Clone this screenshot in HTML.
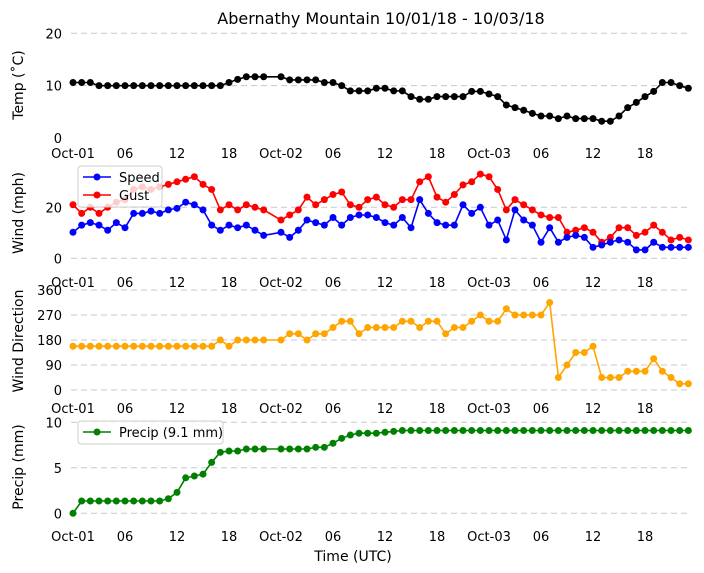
<!DOCTYPE html>
<html><head><meta charset="utf-8">
<style>
body{margin:0;background:#fff;}
svg{display:block;font-family:"DejaVu Sans","Liberation Sans",sans-serif;}
</style></head>
<body>
<svg id="chart" width="704" height="573" viewBox="0 0 704 573">
<text x="381" y="24" font-size="16" text-anchor="middle">Abernathy Mountain 10/01/18 - 10/03/18</text>
<text x="353" y="561" font-size="14" text-anchor="middle">Time (UTC)</text>
</svg>
<script>
const hours = [0,1,2,3,4,5,6,7,8,9,10,11,12,13,14,15,16,17,18,19,20,21,22,24,25,26,27,28,29,30,31,32,33,34,35,36,37,38,39,40,41,42,43,44,45,46,47,48,49,50,51,52,53,54,55,56,57,58,59,60,61,62,63,64,65,66,67,68,69,70,71];
const temp = [10.6,10.6,10.6,10,10,10,10,10,10,10,10,10,10,10,10,10,10,10,10.6,11.2,11.7,11.7,11.7,11.7,11.1,11.1,11.1,11.1,10.6,10.6,10,9,9,9,9.5,9.5,9,9,7.9,7.4,7.4,7.9,7.9,7.9,7.9,8.9,8.9,8.4,7.9,6.3,5.8,5.3,4.7,4.2,4.2,3.7,4.2,3.7,3.7,3.7,3.2,3.2,4.2,5.8,6.8,7.9,8.9,10.6,10.6,10,9.5];
const speed = [10.2,13,14,13,11,14,12,17.6,17.6,18.5,17.6,19,19.6,22,21,19,13,11,13,12,13,11,9,10.2,8.2,11,15,14,13,16,13,16,17,17,16,14,13,16,12,23,17.6,14,13,13,21,17.6,20,13,15,7.2,19,15,13,6.3,12,6.3,8.2,9,8.2,4.3,5.2,6.3,7.2,6.3,3.3,3.3,6.3,4.3,4.3,4.3,4.3];
const gust = [21,17.6,20,17.6,20,22,23,27,28,27,28,29,30,31,32,29,27,19,21,19,21,20,19,15,17,19,24,21,23,25,26,21,20,23,24,21,20,23,23,30,32,24,22,25,28.8,30,33,32,27,19,23,21,19,17,16,16,10.2,11,12,10.2,6.3,8.2,12,12,9,10.2,13,10.2,7.2,8.2,7.2];
const dir = [157.5,157.5,157.5,157.5,157.5,157.5,157.5,157.5,157.5,157.5,157.5,157.5,157.5,157.5,157.5,157.5,157.5,180,157.5,180,180,180,180,180,202.5,202.5,180,202.5,202.5,225,247.5,247.5,202.5,225,225,225,225,247.5,247.5,225,247.5,247.5,202.5,225,225,247.5,270,247.5,247.5,292.5,270,270,270,270,315,45,90,135,135,157.5,45,45,45,67.5,67.5,67.5,112.5,67.5,45,22.5,22.5];
const precip = [0,1.35,1.35,1.35,1.35,1.35,1.35,1.35,1.35,1.35,1.35,1.6,2.3,3.9,4.1,4.3,5.6,6.7,6.85,6.85,7.07,7.07,7.07,7.07,7.07,7.07,7.07,7.25,7.25,7.7,8.24,8.6,8.8,8.8,8.8,8.9,9.0,9.1,9.1,9.1,9.1,9.1,9.1,9.1,9.1,9.1,9.1,9.1,9.1,9.1,9.1,9.1,9.1,9.1,9.1,9.1,9.1,9.1,9.1,9.1,9.1,9.1,9.1,9.1,9.1,9.1,9.1,9.1,9.1,9.1,9.1];
const xTickHours = [0,6,12,18,24,30,36,42,48,54,60,66];
const xTickLabels = ["Oct-01","06","12","18","Oct-02","06","12","18","Oct-03","06","12","18"];
const tempTicks = [0,10,20];
const windTicks = [0,20];
const dirTicks = [0,90,180,270,360];
const precipTicks = [0,5,10];

const NS="http://www.w3.org/2000/svg";
const svg=document.getElementById('chart');
function mk(tag,attrs,parent){const e=document.createElementNS(NS,tag);for(const k in attrs)e.setAttribute(k,attrs[k]);(parent||svg).appendChild(e);return e;}
function xs(h){return 73+h*8.667;}
function yScale(v0,y0,v1,y1){return v=>y0+(v-v0)*(y1-y0)/(v1-v0);}

const panels=[
 {name:'temp',ys:yScale(0,138,20,33.3),ticks:tempTicks,grid:[10,20],xlabY:158,label:'Temp (˚C)',labY:85},
 {name:'wind',ys:yScale(0,258.3,20,207.3),ticks:windTicks,grid:[0,20],xlabY:287,label:'Wind (mph)',labY:213},
 {name:'direction',ys:yScale(0,390,360,290),ticks:dirTicks,grid:dirTicks,xlabY:413,label:'Wind Direction',labY:341},
 {name:'precip',ys:yScale(0,513.3,10,422.3),ticks:precipTicks,grid:precipTicks,xlabY:541,label:'Precip (mm)',labY:467}
];

panels.forEach(p=>{
  p.grid.forEach(v=>{
    const l=mk('line',{x1:71,x2:690,y1:p.ys(v),y2:p.ys(v),stroke:'#c8c8c8','stroke-width':1,'stroke-dasharray':'6,4'});
    
    
  });
  p.ticks.forEach(v=>{
    const t=mk('text',{x:62,y:p.ys(v)+5,'font-size':13,'text-anchor':'end'});
    t.textContent=String(v);
    
    
  });
  xTickHours.forEach((h,i)=>{
    const t=mk('text',{x:xs(h),y:p.xlabY,'font-size':13,'text-anchor':'middle'});
    t.textContent=xTickLabels[i];
    
    
  });
  const lab=mk('text',{x:0,y:0,'font-size':14,'text-anchor':'middle',transform:`translate(23,${p.labY}) rotate(-90)`});
  lab.textContent=p.label;
  
  
});

function series(vals,ys,color,name){
  const g=mk('g',{});
  
  
  const pts=vals.map((v,i)=>xs(hours[i]).toFixed(1)+','+ys(v).toFixed(1)).join(' ');
  const pl=mk('polyline',{points:pts,fill:'none',stroke:color,'stroke-width':1.6},g);
  
  
  vals.forEach((v,i)=>{
    const c=mk('circle',{cx:xs(hours[i]),cy:ys(v),r:3.5,fill:color},g);
    
    
  });
}
series(temp,panels[0].ys,'#000000','temp');
series(gust,panels[1].ys,'#ff0000','gust');
series(speed,panels[1].ys,'#0000ff','speed');
series(dir,panels[2].ys,'#ffa500','direction');
series(precip,panels[3].ys,'#008000','precip');

function legend(x,y,w,entries,name){
  const g=mk('g',{});
  
  
  mk('rect',{x:x,y:y,width:w,height:entries.length*18+5,rx:3,fill:'rgba(255,255,255,0.8)',stroke:'#cccccc'},g);
  entries.forEach((e,i)=>{
    const cy=y+11+i*18;
    const item=mk('g',{},g);
    
    
    mk('line',{x1:x+5,x2:x+33,y1:cy,y2:cy,stroke:e[1],'stroke-width':1.6},item);
    mk('circle',{cx:x+19,cy:cy,r:3.5,fill:e[1]},item);
    const t=mk('text',{x:x+41,y:cy+5,'font-size':13},item);
    t.textContent=e[0];
  });
}
legend(78,166,84,[['Speed','#0000ff'],['Gust','#ff0000']],'wind-legend');
legend(78,421,145,[['Precip (9.1 mm)','#008000']],'precip-legend');
</script>
</body></html>
